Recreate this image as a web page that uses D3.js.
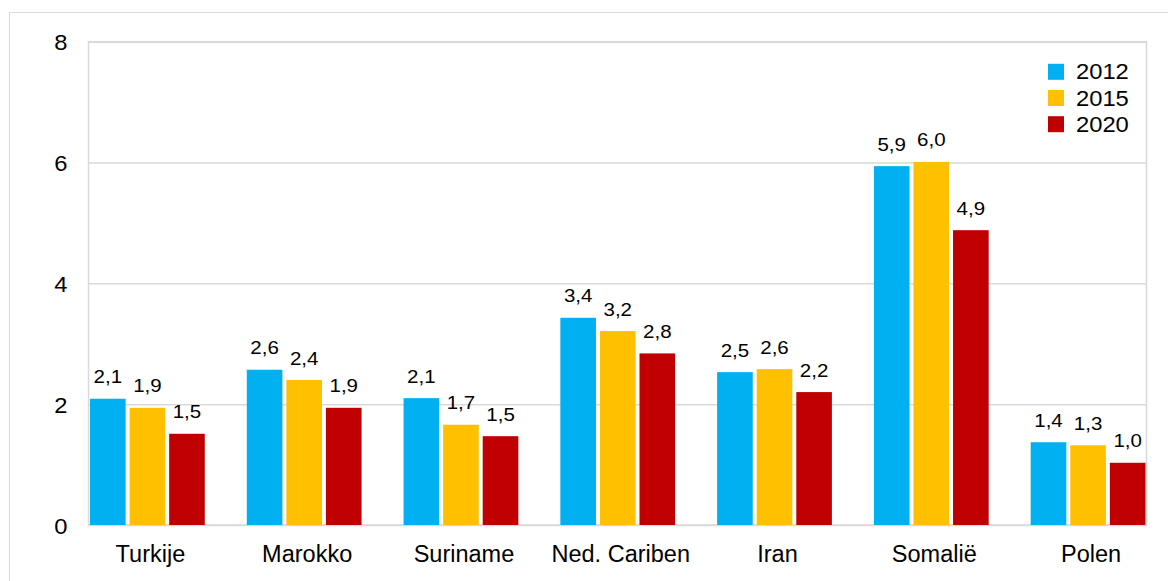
<!DOCTYPE html>
<html>
<head>
<meta charset="utf-8">
<script src="https://cdn.jsdelivr.net/npm/d3@7/dist/d3.min.js"></script>
<style>
  html, body { margin: 0; padding: 0; background: #fff; }
  svg { display: block; font-family: "Liberation Sans", Arial, sans-serif; }
</style>
</head>
<body>
<svg id="chart" width="1168" height="581"></svg>
<script>
const categories = ["Turkije", "Marokko", "Suriname", "Ned. Cariben", "Iran", "Somalië", "Polen"];
const seriesNames = ["2012", "2015", "2020"];
const values2012 = [2.09, 2.57, 2.10, 3.43, 2.53, 5.94, 1.37];
const values2015 = [1.94, 2.40, 1.66, 3.21, 2.58, 6.01, 1.32];
const values2020 = [1.51, 1.94, 1.47, 2.84, 2.20, 4.88, 1.03];
const colors = ["#00B0F0", "#FFC000", "#C00000"];
const yTicks = [0, 2, 4, 6, 8];

const seriesValues = [values2012, values2015, values2020];

const svg = d3.select("#chart");
const plot = { left: 88.5, right: 1146.5, top: 41.7, bottom: 525 };

const nl = d3.formatLocale({ decimal: ",", thousands: ".", grouping: [3], currency: ["€", ""] });
const fmt = nl.format(".1f");
const SX = 1.08; // slight horizontal stretch seen in the reference numerals

// outer border
svg.append("rect")
  .attr("x", 9.5).attr("y", 12.5)
  .attr("width", 1170).attr("height", 600)
  .attr("fill", "none").attr("stroke", "#d9d9d9").attr("stroke-width", 1);

const y = d3.scaleLinear().domain([0, 8]).range([plot.bottom, plot.top]);

const step = 156.78;
const x = d3.scaleBand().domain(categories)
  .range([69, 69 + 7 * step])
  .paddingInner(0.268).paddingOuter(0.134);
const xs = d3.scaleBand().domain(seriesNames)
  .range([0, x.bandwidth()]).paddingInner(0.1).paddingOuter(0);

// gridlines + y labels
const yAxis = d3.axisLeft(y).tickValues(yTicks)
  .tickSize(-(plot.right - plot.left)).tickPadding(0).tickFormat(d3.format("d"));
const gy = svg.append("g").attr("transform", `translate(${plot.left},0)`).call(yAxis);
gy.select(".domain").remove();
gy.selectAll(".tick line").attr("stroke", "#d9d9d9").attr("stroke-width", 1.5);
gy.selectAll(".tick text")
  .attr("x", null).attr("dy", null)
  .attr("transform", `translate(-21,8) scale(${SX},1)`)
  .attr("font-size", 22).attr("fill", "#000")
  .attr("font-family", "'Liberation Sans', Arial, sans-serif");

// plot border
svg.append("rect")
  .attr("x", plot.left).attr("y", plot.top)
  .attr("width", plot.right - plot.left).attr("height", plot.bottom - plot.top)
  .attr("fill", "none").attr("stroke", "#d9d9d9").attr("stroke-width", 1.5);

// bars
const data = [];
categories.forEach((c, i) => {
  seriesNames.forEach((s, j) => {
    data.push({ cat: c, ser: s, v: seriesValues[j][i], color: colors[j] });
  });
});

svg.append("g").selectAll("rect").data(data).join("rect")
  .attr("x", d => x(d.cat) + xs(d.ser))
  .attr("y", d => y(d.v))
  .attr("width", xs.bandwidth())
  .attr("height", d => y(0) - y(d.v))
  .attr("fill", d => d.color);

// data labels
svg.append("g").selectAll("text").data(data).join("text")
  .attr("transform", d => `translate(${x(d.cat) + xs(d.ser) + xs.bandwidth() / 2},${y(d.v) - 15.5}) scale(${SX},1)`)
  .attr("text-anchor", "middle")
  .attr("font-size", 19)
  .attr("fill", "#000")
  .text(d => fmt(d.v));

// x axis labels
const xAxis = d3.axisBottom(x).tickSize(0).tickPadding(0);
const gx = svg.append("g").attr("transform", `translate(3,${plot.bottom})`).call(xAxis);
gx.select(".domain").remove();
gx.selectAll(".tick text").attr("font-size", 23.5).attr("fill", "#000")
  .attr("font-family", "'Liberation Sans', Arial, sans-serif")
  .attr("dy", null).attr("y", 37);

// legend
const legend = svg.append("g");
seriesNames.forEach((s, j) => {
  const by = 79.3 + j * 26.2;
  legend.append("rect").attr("x", 1048).attr("y", by - 15.5)
    .attr("width", 16).attr("height", 16).attr("fill", colors[j]);
  legend.append("text")
    .attr("transform", `translate(1076,${by}) scale(${SX},1)`)
    .attr("font-size", 22).attr("fill", "#000").text(s);
});
</script>
</body>
</html>
